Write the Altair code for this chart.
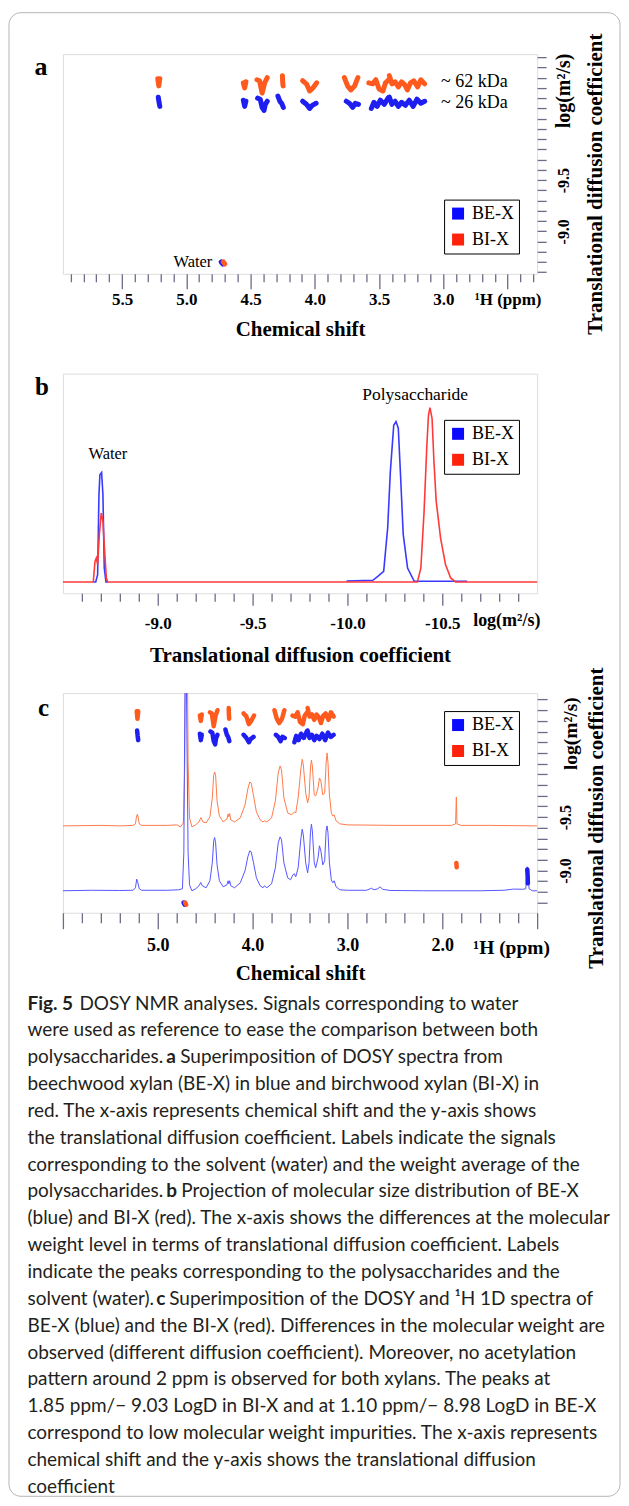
import altair as alt
import pandas as pd

SERIES = ["BE-X", "BI-X"]
SERIF = "Liberation Serif"
SANS = "Lato"
FRAME = "#6c6c88"
BORDER = "#b4b4b4"
LEGEND_COLORS = ["#0a0aff", "#ff220a"]
BLOB_COLORS = ["#1e1ef0", "#ff5a1e"]
B_LINE_COLORS = ["#3a3aff", "#ff3a3a"]
C_SPEC_COLORS = ["#5555ff", "#ff7a4a"]

W, H = 475, 220

# ---------------- DOSY cross-peaks (ppm, log D) ----------------
BLOBS_BE = [
    [(5.218, -10.31), (5.212, -10.26), (5.206, -10.22)],
    [(4.556, -10.28), (4.546, -10.22), (4.536, -10.27)],
    [(4.445, -10.30), (4.425, -10.29), (4.41, -10.21), (4.395, -10.18), (4.385, -10.24), (4.37, -10.27)],
    [(4.287, -10.32), (4.272, -10.27), (4.258, -10.25), (4.245, -10.21)],
    [(4.095, -10.27), (4.065, -10.24), (4.04, -10.20), (4.02, -10.23), (3.99, -10.25)],
    [(3.755, -10.27), (3.73, -10.25), (3.705, -10.21), (3.685, -10.25), (3.66, -10.24)],
    [(3.56, -10.20), (3.54, -10.26), (3.515, -10.22), (3.49, -10.28), (3.46, -10.24), (3.43, -10.30)],
    [(3.42, -10.31), (3.40, -10.24), (3.375, -10.27), (3.35, -10.22), (3.325, -10.26), (3.295, -10.23),
     (3.265, -10.28), (3.235, -10.22), (3.205, -10.29), (3.175, -10.25), (3.145, -10.27)],
    [(4.728, -8.70), (4.716, -8.68)],
    [(1.104, -9.01), (1.100, -8.95), (1.098, -8.88)],
]
BLOBS_BI = [
    [(5.222, -10.49), (5.214, -10.42), (5.206, -10.49)],
    [(4.556, -10.45), (4.546, -10.40), (4.536, -10.46)],
    [(4.45, -10.48), (4.43, -10.47), (4.41, -10.35), (4.39, -10.45), (4.37, -10.50)],
    [(4.252, -10.52), (4.250, -10.46), (4.247, -10.42)],
    [(4.095, -10.47), (4.065, -10.44), (4.04, -10.37), (4.015, -10.40), (3.985, -10.45)],
    [(3.77, -10.50), (3.745, -10.42), (3.72, -10.38), (3.69, -10.42), (3.665, -10.50)],
    [(3.58, -10.45), (3.55, -10.44), (3.525, -10.48), (3.50, -10.39), (3.47, -10.37), (3.45, -10.45), (3.425, -10.48)],
    [(3.42, -10.52), (3.40, -10.44), (3.375, -10.46), (3.35, -10.41), (3.325, -10.46), (3.30, -10.43),
     (3.28, -10.38), (3.255, -10.45), (3.23, -10.47), (3.20, -10.41), (3.175, -10.48), (3.145, -10.44)],
    [(4.712, -8.70), (4.700, -8.68)],
    [(1.852, -9.07), (1.848, -9.03)],
]

# ---------------- panel b projections (log D, intensity) ----------------
B_BE_SEGMENTS = [
    [(-8.663, 0), (-8.673, 0), (-8.683, 7.4), (-8.69, 87.4), (-8.695, 107.4), (-8.704, 109.7),
     (-8.711, 87.4), (-8.718, 14), (-8.727, 0), (-8.737, 0)],
    [(-9.995, 1), (-10.134, 1.7), (-10.16, 5.7), (-10.191, 10.7), (-10.212, 54), (-10.226, 110),
     (-10.244, 157), (-10.256, 160.7), (-10.268, 154), (-10.279, 110.7), (-10.294, 47.7),
     (-10.317, 14), (-10.352, 0.7), (-10.631, 0.7)],
]
B_BI_POINTS = [
    (-8.5, 0), (-8.66, 0), (-8.669, 20.7), (-8.676, 24), (-8.683, 17.4), (-8.692, 47.4), (-8.702, 69),
    (-8.711, 60.7), (-8.72, 30.7), (-8.729, 4), (-8.736, 0), (-10.369, 0), (-10.387, 14), (-10.404, 70.7),
    (-10.418, 134), (-10.427, 167), (-10.435, 174.7), (-10.446, 164), (-10.456, 120.7), (-10.468, 80.7),
    (-10.491, 44), (-10.517, 17.4), (-10.544, 4), (-10.57, 0), (-11.0, 0),
]

# ---------------- panel c 1H spectra (ppm, intensity) ----------------
C_SPEC_BI = [
    (6.00, 87), (5.60, 87.5), (5.40, 87), (5.26, 87.5), (5.235, 89), (5.225, 96), (5.215, 98.7), (5.205, 95),
    (5.195, 89), (5.17, 87.5), (4.90, 87.5), (4.80, 88), (4.76, 86), (4.73, 90), (4.715, 150), (4.705, 300),
    (4.69, 300), (4.68, 150), (4.665, 95), (4.64, 86), (4.60, 88), (4.565, 91), (4.545, 95.3), (4.525, 91),
    (4.49, 90), (4.45, 96), (4.425, 115), (4.41, 138), (4.40, 141), (4.39, 138), (4.375, 112), (4.35, 97),
    (4.31, 91), (4.27, 94), (4.258, 99), (4.25, 96), (4.242, 99.3), (4.23, 93), (4.19, 91), (4.13, 95),
    (4.08, 108), (4.05, 124), (4.03, 131), (4.015, 130), (3.99, 117), (3.96, 101), (3.92, 93), (3.89, 91),
    (3.875, 92), (3.85, 91), (3.80, 95), (3.76, 112), (3.73, 140), (3.71, 147), (3.695, 143), (3.67, 115),
    (3.63, 100), (3.59, 98), (3.56, 101), (3.545, 100), (3.52, 115), (3.49, 145), (3.477, 153.7), (3.465, 148),
    (3.44, 120), (3.42, 110), (3.405, 116), (3.39, 145), (3.38, 153), (3.37, 147), (3.35, 118), (3.335, 117),
    (3.31, 125), (3.295, 135), (3.28, 132), (3.26, 118), (3.24, 120), (3.225, 150), (3.215, 160), (3.205, 150),
    (3.19, 118), (3.17, 100), (3.155, 97), (3.14, 98), (3.12, 92), (3.08, 89), (3.00, 88), (2.50, 87.5),
    (2.00, 87.5), (1.90, 87.5), (1.86, 89), (1.852, 116), (1.845, 89), (1.80, 87.5), (1.50, 87.5), (1.00, 87),
]
C_SPEC_BE = [
    (6.00, 22), (5.70, 22.5), (5.40, 22.3), (5.26, 22.5), (5.235, 25), (5.222, 33.7), (5.21, 30), (5.195, 24),
    (5.17, 22.5), (4.90, 22.5), (4.78, 23), (4.74, 24), (4.725, 60), (4.715, 200), (4.705, 300), (4.695, 200),
    (4.68, 60), (4.665, 28), (4.64, 22), (4.60, 24), (4.565, 27), (4.547, 30.3), (4.53, 27), (4.49, 25),
    (4.45, 32), (4.425, 50), (4.41, 72), (4.40, 75.3), (4.39, 70), (4.375, 48), (4.35, 32), (4.31, 26),
    (4.27, 28), (4.258, 32), (4.25, 29), (4.242, 32), (4.23, 27), (4.19, 25), (4.13, 30), (4.08, 42),
    (4.05, 56), (4.03, 62), (4.015, 61), (3.99, 50), (3.96, 35), (3.92, 27), (3.89, 25), (3.875, 27),
    (3.85, 25), (3.80, 29), (3.76, 45), (3.73, 70), (3.71, 76), (3.695, 73), (3.67, 50), (3.63, 35),
    (3.60, 33), (3.575, 38), (3.56, 39), (3.545, 36), (3.52, 45), (3.49, 75), (3.477, 83.7), (3.465, 78),
    (3.44, 50), (3.42, 40), (3.405, 50), (3.39, 80), (3.38, 88.7), (3.37, 82), (3.35, 50), (3.335, 45),
    (3.31, 55), (3.295, 67), (3.28, 62), (3.26, 48), (3.24, 52), (3.225, 82), (3.215, 87), (3.205, 80),
    (3.19, 50), (3.17, 33), (3.155, 30), (3.14, 32), (3.12, 26), (3.08, 23), (3.00, 22.5), (2.80, 22.5),
    (2.76, 24), (2.75, 24.7), (2.72, 23), (2.68, 24), (2.655, 26), (2.63, 23.5), (2.55, 22.3), (2.20, 22),
    (2.00, 22), (1.60, 22), (1.35, 22.5), (1.25, 23.7), (1.15, 23.5), (1.12, 24), (1.105, 46), (1.095, 40),
    (1.085, 24), (1.05, 22), (1.00, 22),
]

# ---------------- axes tick values ----------------
A_XTICKS = [5.9, 5.8, 5.7, 5.6, 5.5, 5.4, 5.3, 5.2, 5.1, 5.0, 4.9, 4.8, 4.7, 4.6, 4.5, 4.4, 4.3, 4.2, 4.1,
            4.0, 3.9, 3.8, 3.7, 3.6, 3.5, 3.4, 3.3, 3.2, 3.1, 3.0, 2.9, 2.8, 2.7, 2.6, 2.5, 2.4, 2.3]
A_YTICKS = [-10.7, -10.6, -10.5, -10.4, -10.3, -10.2, -10.1, -10.0, -9.9, -9.8, -9.7, -9.6, -9.5, -9.4,
            -9.3, -9.2, -9.1, -9.0, -8.9, -8.8, -8.7, -8.6]
B_XTICKS = [-8.6, -8.7, -8.8, -8.9, -9.0, -9.1, -9.2, -9.3, -9.4, -9.5, -9.6, -9.7, -9.8, -9.9, -10.0,
            -10.1, -10.2, -10.3, -10.4, -10.5, -10.6, -10.7, -10.8, -10.9]
C_XTICKS = [6.0, 5.8, 5.6, 5.4, 5.2, 5.0, 4.8, 4.6, 4.4, 4.2, 4.0, 3.8, 3.6, 3.4, 3.2, 3.0, 2.8, 2.6,
            2.4, 2.2, 2.0, 1.8, 1.6, 1.4, 1.2, 1.0]
C_YTICKS = [-10.6, -10.5, -10.4, -10.3, -10.2, -10.1, -10.0, -9.9, -9.8, -9.7, -9.6, -9.5, -9.4, -9.3,
            -9.2, -9.1, -9.0, -8.9, -8.8, -8.7]

# ---------------- annotations ----------------
A_TEXT = ["~ 62 kDa", "~ 26 kDa", "Water"]
A_TEXT_PPM = [3.018, 3.018, 5.10]
A_TEXT_LOGD = [-10.454, -10.248, -8.703]
A_TEXT_SIZE = [18, 18, 16.5]
B_TEXT = ["Water", "Polysaccharide"]
B_TEXT_X = [-8.737, -10.357]
B_TEXT_I = [128, 187.4]
B_TEXT_SIZE = [16.5, 17.5]

# ---------------- caption ----------------
CAPTION = [
    (0, 27, True, "Fig. 5"), (0, 79, False, "DOSY NMR analyses. Signals corresponding to water"),
    (1, 27, False, "were used as reference to ease the comparison between both"),
    (2, 27, False, "polysaccharides."), (2, 166, True, "a"), (2, 180, False, "Superimposition of DOSY spectra from"),
    (3, 27, False, "beechwood xylan (BE-X) in blue and birchwood xylan (BI-X) in"),
    (4, 27, False, "red. The x-axis represents chemical shift and the y-axis shows"),
    (5, 27, False, "the translational diffusion coefficient. Labels indicate the signals"),
    (6, 27, False, "corresponding to the solvent (water) and the weight average of the"),
    (7, 27, False, "polysaccharides."), (7, 166, True, "b"), (7, 181, False, "Projection of molecular size distribution of BE-X"),
    (8, 27, False, "(blue) and BI-X (red). The x-axis shows the differences at the molecular"),
    (9, 27, False, "weight level in terms of translational diffusion coefficient. Labels"),
    (10, 27, False, "indicate the peaks corresponding to the polysaccharides and the"),
    (11, 27, False, "solvent (water)."), (11, 156, True, "c"), (11, 169, False, "Superimposition of the DOSY and \u00b9H 1D spectra of"),
    (12, 27, False, "BE-X (blue) and the BI-X (red). Differences in the molecular weight are"),
    (13, 27, False, "observed (different diffusion coefficient). Moreover, no acetylation"),
    (14, 27, False, "pattern around 2 ppm is observed for both xylans. The peaks at"),
    (15, 27, False, "1.85 ppm/\u2212 9.03 LogD in BI-X and at 1.10 ppm/\u2212 8.98 LogD in BE-X"),
    (16, 27, False, "correspond to low molecular weight impurities. The x-axis represents"),
    (17, 27, False, "chemical shift and the y-axis shows the translational diffusion"),
    (18, 27, False, "coefficient"),
]

# ---------------- data frames ----------------
rows = []
for s, blobs in ((SERIES[0], BLOBS_BE), (SERIES[1], BLOBS_BI)):
    for k, blob in enumerate(blobs):
        for j, (p, d) in enumerate(blob):
            rows.append(dict(series=s, blob=f"{s}-{k}", idx=j, ppm=p, logd=d))
blob_df = pd.DataFrame(rows)

rows = []
for k, seg in enumerate(B_BE_SEGMENTS):
    for j, (x, i) in enumerate(seg):
        rows.append(dict(series=SERIES[0], seg=k, idx=j, logd=x, inten=i))
b_be_df = pd.DataFrame(rows)
b_bi_df = pd.DataFrame([dict(series=SERIES[1], seg=0, idx=j, logd=x, inten=i) for j, (x, i) in enumerate(B_BI_POINTS)])

rows = []
for s, spec in ((SERIES[1], C_SPEC_BI), (SERIES[0], C_SPEC_BE)):
    for j, (p, i) in enumerate(spec):
        rows.append(dict(series=s, idx=j, ppm=p, inten=i))
spec_df = pd.DataFrame(rows)

legend_df = pd.DataFrame({"series": SERIES})
one = pd.DataFrame([{"k": 0}])

# ---------------- helpers ----------------
def legend_layer(lx, ly):
    return alt.Chart(legend_df).mark_square(opacity=1).encode(
        color=alt.Color("series:N", scale=alt.Scale(domain=SERIES, range=LEGEND_COLORS),
                        legend=alt.Legend(orient="none", legendX=lx, legendY=ly, title=None,
                                          symbolType="square", symbolSize=144, symbolStrokeWidth=0,
                                          labelFont=SERIF, labelFontSize=18, labelColor="black",
                                          labelOffset=5, padding=5, rowPadding=8,
                                          strokeColor="black", fillColor="white",
                                          labelExpr="datum.label + '\u00a0\u00a0'"))
    ).transform_filter("false")


def x_axis(values, label_expr, major_test, major, minor, pad, title, tpad, lsize=17):
    return alt.Axis(values=values, labelExpr=label_expr,
                    tickSize={"condition": {"test": major_test, "value": major}, "value": minor},
                    tickColor=FRAME, tickWidth=1.3, domain=False, grid=False,
                    labelFont=SERIF, labelFontWeight="bold", labelFontSize=lsize, labelColor="black",
                    labelPadding=pad, labelOverlap=False, labelFlush=False,
                    title=title, titleFont=SERIF, titleFontWeight="bold", titleFontSize=21,
                    titleColor="black", titlePadding=tpad)


def y_axis(values, tsize, pad, tx, ty, lsize=16):
    return alt.Axis(orient="right", values=values,
                    labelExpr="abs(datum.value + 9.5) < 0.01 ? '-9.5' : (abs(datum.value + 9.0) < 0.01 ? '-9.0' : '')",
                    tickSize=tsize, tickColor=FRAME, tickWidth=1.3, domain=False, grid=False,
                    labelAngle=270, labelAlign="center", labelBaseline="middle",
                    labelFont=SERIF, labelFontWeight="bold", labelFontSize=lsize, labelColor="black",
                    labelPadding=pad, labelOverlap=False, labelFlush=False,
                    title="Translational diffusion coefficient", titleFont=SERIF, titleFontWeight="bold",
                    titleFontSize=21, titleColor="black", titleAngle=270, titleAlign="center",
                    titleBaseline="middle", titleX=tx, titleY=ty)


def letter(txt, x, y, size):
    return alt.Chart(one).mark_text(text=txt, font=SERIF, fontWeight="bold", fontSize=size,
                                    align="center", baseline="alphabetic", color="black").encode(
        x=alt.value(x), y=alt.value(y))

# ---------------- panel a ----------------
ax_a = x_axis(A_XTICKS,
              "abs(datum.value - 2.5) < 0.01 ? '\u00b9H (ppm)' : (abs(datum.value*2 - round(datum.value*2)) < 0.01 ? format(datum.value, '.1f') : '')",
              "abs(datum.value*2 - round(datum.value*2)) < 0.01", 15, 8, 3, "Chemical shift", 11)
xa = alt.X("ppm:Q", scale=alt.Scale(domain=[5.96, 2.27], nice=False, zero=False), axis=ax_a)
ya = alt.Y("logd:Q", scale=alt.Scale(domain=[-8.585, -10.73], nice=False, zero=False),
           axis=y_axis(A_YTICKS, 9, 17, 58.5, 129.7))

border = alt.Chart(one).mark_rect(cornerRadius=12, fillOpacity=0, stroke=BORDER, strokeWidth=1).encode(
    x=alt.value(-54), x2=alt.value(558), y=alt.value(-41.5), y2=alt.value(1444.5))

a_blobs = alt.Chart(blob_df).mark_line(strokeWidth=5, strokeCap="round", strokeJoin="round").encode(
    x=xa, y=ya,
    color=alt.Color("series:N", scale=alt.Scale(domain=SERIES, range=BLOB_COLORS), legend=None),
    detail="blob:N", order="idx:Q").transform_filter("datum.ppm > 2.3")

a_text_df = pd.DataFrame({"label": A_TEXT, "ppm": A_TEXT_PPM, "logd": A_TEXT_LOGD, "fs": A_TEXT_SIZE})
a_text = alt.Chart(a_text_df).mark_text(font=SERIF, align="left", baseline="middle", color="black").encode(
    x=xa, y=ya, text="label:N", size=alt.Size("fs:Q", scale=None))
a_log = alt.Chart(pd.DataFrame({"t": ["log(m\u00b2/s)"], "logd": [-10.37]})).mark_text(
    font=SERIF, fontWeight="bold", fontSize=20, angle=270, align="center", baseline="middle", color="black").encode(
    x=alt.value(W + 26.5), y=ya, text="t:N")

panel_a = alt.layer(border, a_blobs, a_text, a_log, letter("a", -22, 21, 26),
                    legend_layer(381.8, 145.7)).resolve_scale(color="independent").properties(width=W, height=H)

# ---------------- panel b ----------------
ax_b = x_axis(B_XTICKS,
              "abs(datum.value*2 - round(datum.value*2)) < 0.01 ? '-' + format(abs(datum.value), '.1f') : ''",
              "abs(datum.value*2 - round(datum.value*2)) < 0.01", 12, 8, 10,
              "Translational diffusion coefficient", 13)
xb = alt.X("logd:Q", scale=alt.Scale(domain=[-8.5, -11.0], nice=False, zero=False), axis=ax_b)
yb = alt.Y("inten:Q", scale=alt.Scale(domain=[-11.3, 208.7], nice=False, zero=False), axis=None)
cscale_b = alt.Scale(domain=SERIES, range=B_LINE_COLORS)

b_blue = alt.Chart(b_be_df).mark_line(strokeWidth=1.6).encode(
    x=xb, y=yb, color=alt.Color("series:N", scale=cscale_b, legend=None), detail="seg:N", order="idx:Q")
b_red = alt.Chart(b_bi_df).mark_line(strokeWidth=1.6).encode(
    x=xb, y=yb, color=alt.Color("series:N", scale=cscale_b, legend=None), order="idx:Q")
b_text_df = pd.DataFrame({"label": B_TEXT, "logd": B_TEXT_X, "inten": B_TEXT_I, "fs": B_TEXT_SIZE})
b_text = alt.Chart(b_text_df).mark_text(font=SERIF, align="center", baseline="middle", color="black").encode(
    x=xb, y=yb, text="label:N", size=alt.Size("fs:Q", scale=None))
b_log = alt.Chart(pd.DataFrame({"t": ["log(m\u00b2/s)"], "logd": [-10.84]})).mark_text(
    font=SERIF, fontWeight="bold", fontSize=18, align="center", baseline="middle", color="black").encode(
    x=xb, y=alt.value(H + 28), text="t:N")

panel_b = alt.layer(b_blue, b_red, b_text, b_log, letter("b", -21, 21, 25),
                    legend_layer(381.8, 46.3)).resolve_scale(color="independent").properties(width=W, height=H)

# ---------------- panel c ----------------
ax_c = x_axis(C_XTICKS,
              "abs(datum.value - round(datum.value)) < 0.01 && datum.value < 5.5 && datum.value > 1.5 ? format(datum.value, '.1f') : ''",
              "abs(datum.value - round(datum.value)) < 0.01", 16, 10, 8, "Chemical shift", 8, 18)
xc = alt.X("ppm:Q", scale=alt.Scale(domain=[6.0, 1.0], nice=False, zero=False), axis=ax_c)
yc = alt.Y("logd:Q", scale=alt.Scale(domain=[-8.605, -10.66], nice=False, zero=False),
           axis=y_axis(C_YTICKS, 10, 18, 59.5, 124.7))
yc_plain = alt.Y("logd:Q", scale=alt.Scale(domain=[-8.605, -10.66], nice=False, zero=False), axis=None)

c_spec = alt.Chart(spec_df).mark_line(strokeWidth=1, clip=True).encode(
    x=xc, y=alt.Y("inten:Q", scale=alt.Scale(domain=[0, 220], nice=False, zero=False), axis=None),
    color=alt.Color("series:N", scale=alt.Scale(domain=SERIES, range=C_SPEC_COLORS), legend=None),
    order="idx:Q")
c_blobs = alt.Chart(blob_df).mark_line(strokeWidth=4.5, strokeCap="round", strokeJoin="round").encode(
    x=xc, y=yc,
    color=alt.Color("series:N", scale=alt.Scale(domain=SERIES, range=BLOB_COLORS), legend=None),
    detail="blob:N", order="idx:Q")
c_ppm = alt.Chart(pd.DataFrame({"t": ["\u00b9H (ppm)"], "ppm": [1.269]})).mark_text(
    font=SERIF, fontWeight="bold", fontSize=19.5, align="center", baseline="middle", color="black").encode(
    x=xc, y=alt.value(H + 35), text="t:N")
c_log = alt.Chart(pd.DataFrame({"t": ["log(m\u00b2/s)"], "logd": [-10.28]})).mark_text(
    font=SERIF, fontWeight="bold", fontSize=19.5, angle=270, align="center", baseline="middle", color="black").encode(
    x=alt.value(W + 33.5), y=yc_plain, text="t:N")

panel_c = alt.layer(c_spec, c_blobs, c_ppm, c_log, letter("c", -19.5, 23, 25),
                    legend_layer(381.8, 18)).resolve_scale(y="independent", color="independent").properties(width=W, height=H)

# ---------------- caption ----------------
cap_df = pd.DataFrame([dict(line=l, xpos=x, bold=b, t=t) for (l, x, b, t) in CAPTION])
cap_x = alt.X("xpos:Q", scale=alt.Scale(domain=[0, 629], range=[-62.5, 566.5]), axis=None)
cap_y = alt.Y("line:Q", scale=alt.Scale(domain=[0, 18], range=[-9, 475]), axis=None)
cap_norm = alt.Chart(cap_df).mark_text(font=SANS, fontSize=19, align="left", baseline="middle", color="#231f20").encode(
    x=cap_x, y=cap_y, text="t:N").transform_filter("!datum.bold")
cap_bold = alt.Chart(cap_df).mark_text(font=SANS, fontSize=19, fontWeight="bold", align="left", baseline="middle",
                                       color="#231f20").encode(
    x=cap_x, y=cap_y, text="t:N").transform_filter("datum.bold")
caption = alt.layer(cap_norm, cap_bold).properties(width=W, height=475,
                                                   view=alt.ViewBackground(strokeWidth=0, strokeOpacity=0))

chart = alt.vconcat(panel_a, panel_b, panel_c, caption, spacing=100, bounds="flush").properties(
    padding={"left": 0, "top": 2, "right": 0, "bottom": 0}
).configure_view(stroke=FRAME, strokeWidth=1.5).configure(background="white")

chart.save("out.html", embed_options={"renderer": "svg", "actions": False})
